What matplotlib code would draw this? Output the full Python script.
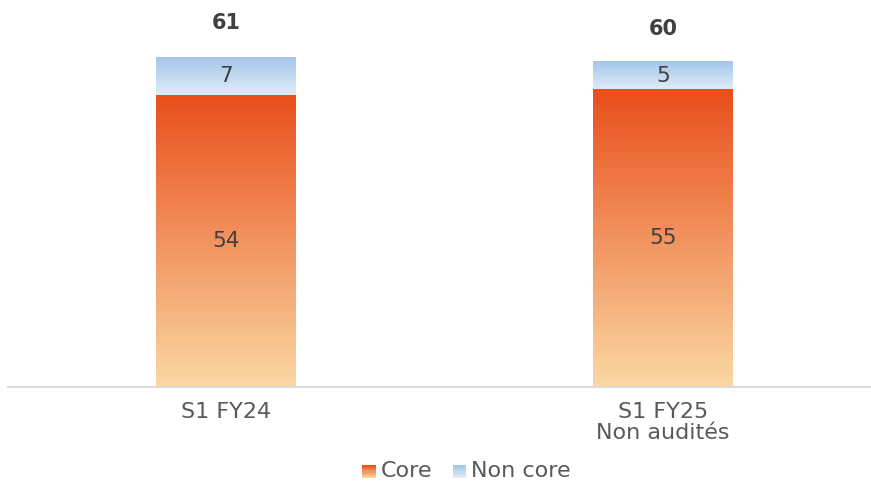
import matplotlib
matplotlib.use("Agg")
import matplotlib.pyplot as plt
import matplotlib.patches as mpatches
from matplotlib.colors import LinearSegmentedColormap
from matplotlib.legend_handler import HandlerBase
import numpy as np

plt.rcParams["font.family"] = ["DejaVu Sans"]

categories = ["S1 FY24", "S1 FY25\nNon audités"]
core = [54, 55]
non_core = [7, 5]
totals = [61, 60]

CORE_TOP, CORE_BOT = "#E94E1B", "#FBD8A4"
NC_TOP, NC_BOT = "#A3C6EA", "#DFECF8"
INK, SOFT, AXIS = "#404040", "#595959", "#D9D9D9"

core_cmap = LinearSegmentedColormap.from_list("core", [CORE_BOT, CORE_TOP])
nc_cmap = LinearSegmentedColormap.from_list("nc", [NC_BOT, NC_TOP])
grad = np.linspace(0, 1, 256).reshape(-1, 1)


def grad_bar(ax, x, w, y0, y1, cmap):
    ax.imshow(grad, cmap=cmap, origin="lower", aspect="auto",
              extent=(x - w / 2, x + w / 2, y0, y1), zorder=2)


class GradHandler(HandlerBase):
    def __init__(self, cmap):
        super().__init__()
        self.cmap = cmap

    def create_artists(self, legend, orig, xd, yd, width, height, fontsize, trans):
        side = height
        x0 = xd + width - side
        n = 12
        arts = []
        for i in range(n):
            r = mpatches.Rectangle((x0, yd + side * i / n), side, side / n + 0.05,
                                   facecolor=self.cmap(i / (n - 1)), edgecolor="none",
                                   transform=trans)
            arts.append(r)
        return arts


fig = plt.figure(figsize=(8.71, 4.82), dpi=100)
ax = fig.add_axes([8 / 871, 95 / 482, 863 / 871, 379 / 482])

x = np.arange(len(categories))
w = 0.32
for i in range(len(categories)):
    grad_bar(ax, x[i], w, 0, core[i], core_cmap)
    grad_bar(ax, x[i], w, core[i], core[i] + non_core[i], nc_cmap)
    ax.text(x[i], core[i] / 2, f"{core[i]}", ha="center", va="center",
            fontsize=15.5, color=INK, zorder=3)
    ax.text(x[i], core[i] + non_core[i] / 2, f"{non_core[i]}", ha="center", va="center",
            fontsize=15.5, color=INK, zorder=3)
    ax.text(x[i], totals[i] + 6.2, f"{totals[i]}", ha="center", va="center",
            fontsize=15, fontweight="bold", color=INK, zorder=3)

ax.set_xlim(-0.499, 1.476)
ax.set_ylim(0, 70)
ax.set_xticks(x)
ax.set_xticklabels(categories, fontsize=16, color=SOFT, linespacing=1.05)
ax.tick_params(axis="x", length=0, pad=11)
ax.set_yticks([])
ax.spines[["top", "right", "left"]].set_visible(False)
ax.spines["bottom"].set_color(AXIS)
ax.spines["bottom"].set_linewidth(1.3)

h_core = mpatches.Patch(label="Core")
h_nc = mpatches.Patch(label="Non core")
fig.legend([h_core, h_nc], ["Core", "Non core"], loc="center",
           bbox_to_anchor=(467 / 871, 1 - 471 / 482), ncol=2, frameon=False,
           fontsize=16, labelcolor=SOFT, handlelength=0.55, handleheight=0.55,
           handletextpad=0.2, columnspacing=1.0,
           handler_map={h_core: GradHandler(core_cmap), h_nc: GradHandler(nc_cmap)})

fig.savefig("out.png", dpi=100, facecolor="white")
